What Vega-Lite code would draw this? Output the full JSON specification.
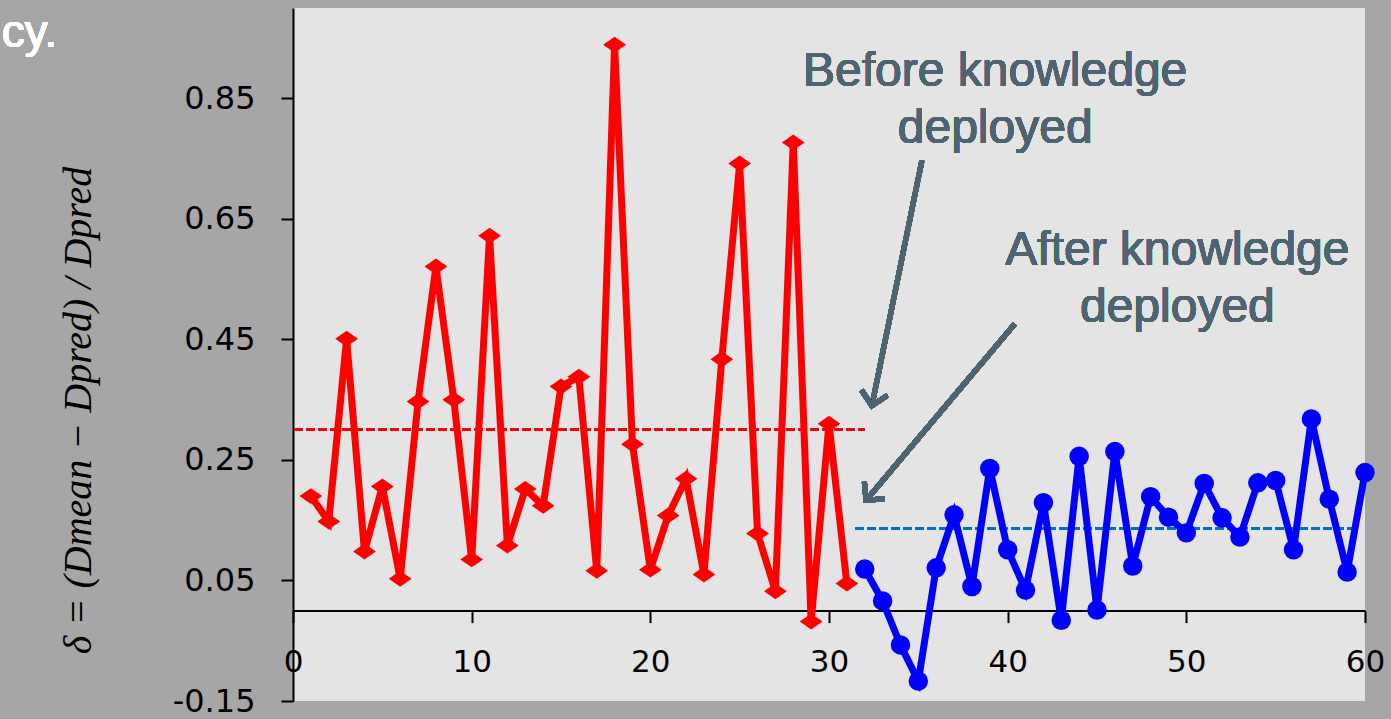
{
  "$schema": "https://vega.github.io/schema/vega-lite/v6.json",
  "width": 1072,
  "height": 693,
  "autosize": {"type": "none"},
  "padding": {"left": 293, "top": 8, "right": 26, "bottom": 18},
  "background": "#a6a6a6",
  "config": {"view": {"stroke": null, "fill": "#e4e4e4"}},
  "data": {"values": [
    {"x": 1, "delta": 0.19, "phase": "before"},
    {"x": 2, "delta": 0.148, "phase": "before"},
    {"x": 3, "delta": 0.451, "phase": "before"},
    {"x": 4, "delta": 0.098, "phase": "before"},
    {"x": 5, "delta": 0.206, "phase": "before"},
    {"x": 6, "delta": 0.053, "phase": "before"},
    {"x": 7, "delta": 0.347, "phase": "before"},
    {"x": 8, "delta": 0.571, "phase": "before"},
    {"x": 9, "delta": 0.35, "phase": "before"},
    {"x": 10, "delta": 0.085, "phase": "before"},
    {"x": 11, "delta": 0.622, "phase": "before"},
    {"x": 12, "delta": 0.108, "phase": "before"},
    {"x": 13, "delta": 0.202, "phase": "before"},
    {"x": 14, "delta": 0.174, "phase": "before"},
    {"x": 15, "delta": 0.372, "phase": "before"},
    {"x": 16, "delta": 0.388, "phase": "before"},
    {"x": 17, "delta": 0.066, "phase": "before"},
    {"x": 18, "delta": 0.939, "phase": "before"},
    {"x": 19, "delta": 0.276, "phase": "before"},
    {"x": 20, "delta": 0.068, "phase": "before"},
    {"x": 21, "delta": 0.158, "phase": "before"},
    {"x": 22, "delta": 0.219, "phase": "before"},
    {"x": 23, "delta": 0.06, "phase": "before"},
    {"x": 24, "delta": 0.417, "phase": "before"},
    {"x": 25, "delta": 0.742, "phase": "before"},
    {"x": 26, "delta": 0.128, "phase": "before"},
    {"x": 27, "delta": 0.032, "phase": "before"},
    {"x": 28, "delta": 0.777, "phase": "before"},
    {"x": 29, "delta": -0.018, "phase": "before"},
    {"x": 30, "delta": 0.31, "phase": "before"},
    {"x": 31, "delta": 0.045, "phase": "before"},
    {"x": 32, "delta": 0.069, "phase": "after"},
    {"x": 33, "delta": 0.016, "phase": "after"},
    {"x": 34, "delta": -0.057, "phase": "after"},
    {"x": 35, "delta": -0.117, "phase": "after"},
    {"x": 36, "delta": 0.071, "phase": "after"},
    {"x": 37, "delta": 0.159, "phase": "after"},
    {"x": 38, "delta": 0.04, "phase": "after"},
    {"x": 39, "delta": 0.236, "phase": "after"},
    {"x": 40, "delta": 0.101, "phase": "after"},
    {"x": 41, "delta": 0.034, "phase": "after"},
    {"x": 42, "delta": 0.179, "phase": "after"},
    {"x": 43, "delta": -0.016, "phase": "after"},
    {"x": 44, "delta": 0.256, "phase": "after"},
    {"x": 45, "delta": 0.001, "phase": "after"},
    {"x": 46, "delta": 0.264, "phase": "after"},
    {"x": 47, "delta": 0.074, "phase": "after"},
    {"x": 48, "delta": 0.189, "phase": "after"},
    {"x": 49, "delta": 0.155, "phase": "after"},
    {"x": 50, "delta": 0.129, "phase": "after"},
    {"x": 51, "delta": 0.211, "phase": "after"},
    {"x": 52, "delta": 0.154, "phase": "after"},
    {"x": 53, "delta": 0.122, "phase": "after"},
    {"x": 54, "delta": 0.212, "phase": "after"},
    {"x": 55, "delta": 0.216, "phase": "after"},
    {"x": 56, "delta": 0.101, "phase": "after"},
    {"x": 57, "delta": 0.318, "phase": "after"},
    {"x": 58, "delta": 0.185, "phase": "after"},
    {"x": 59, "delta": 0.064, "phase": "after"},
    {"x": 60, "delta": 0.229, "phase": "after"}
  ]},
  "layer": [
    {
      "mark": {"type": "rule", "color": "#ff0000", "strokeWidth": 2, "strokeDash": [8, 4]},
      "encoding": {
        "x": {
          "datum": 0.1, "type": "quantitative",
          "scale": {"domain": [0, 60], "nice": false, "zero": false},
          "axis": {
            "title": null, "values": [0, 10, 20, 30, 40, 50, 60], "grid": false,
            "offset": -90.4, "domainColor": "#000000", "domainWidth": 2,
            "tickColor": "#000000", "tickWidth": 2, "tickSize": 12,
            "labelFont": "DejaVu Sans", "labelFontSize": 31, "labelColor": "#000000",
            "labelPadding": 25, "labelFlush": false, "labelOverlap": false
          }
        },
        "x2": {"datum": 32},
        "y": {
          "datum": 0.3, "type": "quantitative",
          "scale": {"domain": [-0.15, 1.0], "nice": false, "zero": false},
          "axis": {
            "title": "δ = (Dmean − Dpred) / Dpred",
            "titleFont": "Liberation Serif", "titleFontStyle": "italic", "titleFontWeight": "normal",
            "titleFontSize": 40, "titleColor": "#000000", "titleAngle": -90,
            "titleX": -215, "titleY": 402, "titleAlign": "center", "titleBaseline": "middle",
            "values": [-0.15, 0.05, 0.25, 0.45, 0.65, 0.85], "format": ".2f",
            "labelExpr": "replace(datum.label, '−', '-')", "grid": false,
            "domainColor": "#000000", "domainWidth": 2,
            "tickColor": "#000000", "tickWidth": 2, "tickSize": 12,
            "labelFont": "DejaVu Sans", "labelFontSize": 32, "labelColor": "#000000",
            "labelPadding": 26, "labelFlush": false, "labelOverlap": false
          }
        }
      }
    },
    {
      "mark": {"type": "rule", "color": "#0070c0", "strokeWidth": 2, "strokeDash": [8, 4]},
      "encoding": {
        "x": {"datum": 31.5, "type": "quantitative"},
        "x2": {"datum": 59.4},
        "y": {"datum": 0.136, "type": "quantitative"}
      }
    },
    {
      "mark": {"type": "line", "strokeWidth": 7, "strokeJoin": "miter"},
      "encoding": {
        "x": {"field": "x", "type": "quantitative"},
        "y": {"field": "delta", "type": "quantitative"},
        "color": {"field": "phase", "type": "nominal", "scale": {"domain": ["before", "after"], "range": ["#ff0000", "#0000ff"]}, "legend": null},
        "order": {"field": "x"}
      }
    },
    {
      "mark": {"type": "point", "filled": true, "opacity": 1},
      "encoding": {
        "x": {"field": "x", "type": "quantitative"},
        "y": {"field": "delta", "type": "quantitative"},
        "color": {"field": "phase", "type": "nominal", "legend": null},
        "shape": {"field": "phase", "type": "nominal", "scale": {"domain": ["before", "after"], "range": ["M-1,0L0,-0.7L1,0L0,0.7Z", "circle"]}, "legend": null},
        "size": {"field": "phase", "type": "nominal", "scale": {"domain": ["before", "after"], "range": [520, 380]}, "legend": null}
      }
    },
    {
      "mark": {"type": "rule", "color": "#4e6470", "strokeWidth": 5},
      "encoding": {
        "x": {"datum": 35.2, "type": "quantitative"},
        "y": {"datum": 0.747, "type": "quantitative"},
        "x2": {"datum": 32.4},
        "y2": {"datum": 0.34}
      }
    },
    {
      "mark": {"type": "rule", "color": "#4e6470", "strokeWidth": 5},
      "encoding": {
        "x": {"datum": 40.4, "type": "quantitative"},
        "y": {"datum": 0.476, "type": "quantitative"},
        "x2": {"datum": 32.07},
        "y2": {"datum": 0.183}
      }
    },
    {
      "mark": {"type": "point", "shape": "M-1,1L0,0L1,1", "filled": false, "stroke": "#4e6470", "strokeWidth": 5, "size": 700, "angle": 191.5, "opacity": 1},
      "encoding": {
        "x": {"datum": 32.4, "type": "quantitative"},
        "y": {"datum": 0.34, "type": "quantitative"}
      }
    },
    {
      "mark": {"type": "point", "shape": "M-1,1L0,0L1,1", "filled": false, "stroke": "#4e6470", "strokeWidth": 5, "size": 700, "angle": 220, "opacity": 1},
      "encoding": {
        "x": {"datum": 32.07, "type": "quantitative"},
        "y": {"datum": 0.183, "type": "quantitative"}
      }
    },
    {
      "mark": {"type": "text", "font": "Liberation Sans", "fontSize": 48, "color": "#4e6470", "align": "center", "baseline": "middle", "lineHeight": 57},
      "encoding": {
        "x": {"datum": 39.3, "type": "quantitative"},
        "y": {"datum": 0.894, "type": "quantitative"},
        "text": {"value": ["Before knowledge", "deployed"]}
      }
    },
    {
      "mark": {"type": "text", "font": "Liberation Sans", "fontSize": 48, "color": "#4e6470", "align": "center", "baseline": "middle", "lineHeight": 57},
      "encoding": {
        "x": {"datum": 49.5, "type": "quantitative"},
        "y": {"datum": 0.596, "type": "quantitative"},
        "text": {"value": ["After knowledge", "deployed"]}
      }
    },
    {
      "mark": {"type": "text", "font": "Liberation Sans", "fontSize": 46, "color": "#ffffff", "align": "left", "baseline": "alphabetic"},
      "encoding": {
        "x": {"datum": -16.3, "type": "quantitative"},
        "y": {"datum": 0.936, "type": "quantitative"},
        "text": {"value": "cy."}
      }
    }
  ]
}
